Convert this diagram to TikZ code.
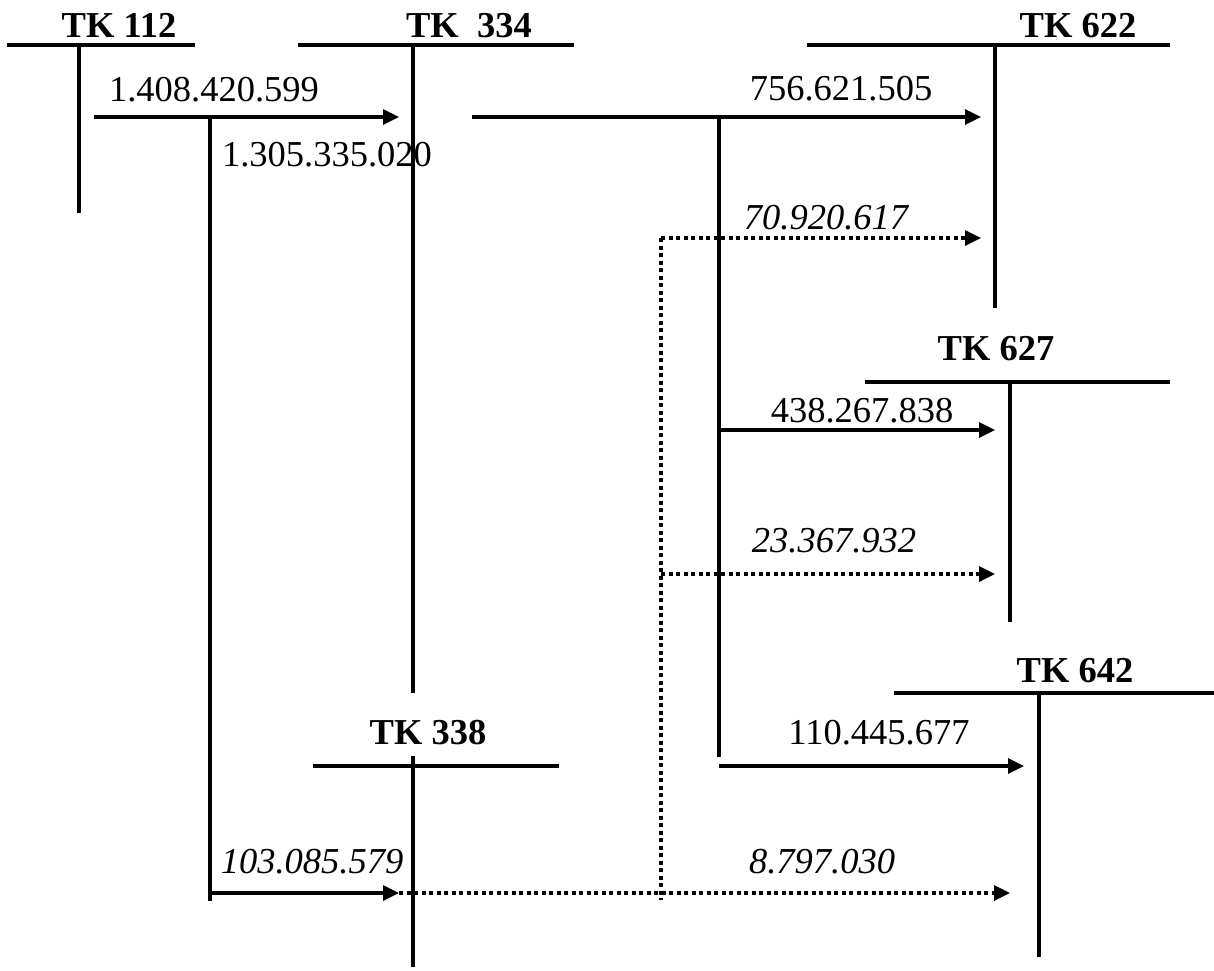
\documentclass[tikz,border=0pt]{standalone}
\usepackage{fontspec}
\setmainfont{Liberation Serif}
\usetikzlibrary{arrows.meta}
\tikzset{
  acc/.style={line width=3.3pt},
  flow/.style={line width=3.3pt,-{Triangle[length=16pt,width=15pt]}},
  dflow/.style={line width=3.3pt,dash pattern=on 4pt off 3.5pt,-{Triangle[length=16pt,width=15pt]}},
  dline/.style={line width=3.3pt,dash pattern=on 4pt off 3.5pt},
  title/.style={anchor=base,inner sep=0pt,font=\fontsize{36.5}{40}\selectfont\bfseries},
  amt/.style={anchor=base,inner sep=0pt,font=\fontsize{36.5}{40}\selectfont},
  iamt/.style={anchor=base,inner sep=0pt,font=\fontsize{36.5}{40}\selectfont\itshape}
}
\begin{document}
\begin{tikzpicture}[x=1pt,y=-1pt]
\useasboundingbox (0,0) rectangle (1214,970);
% T-accounts: titles
\node[title] (t112) at (119,37) {TK 112};
\node[title] (t334) at (469,37) {TK~~334};
\node[title] (t622) at (1078,37) {TK 622};
\node[title] (t627) at (996,360) {TK 627};
\node[title] (t642) at (1075,682) {TK 642};
\node[title] (t338) at (428,744) {TK 338};
% T-account coordinates
\coordinate (h112a) at (7,45);   \coordinate (h112b) at (195,45);
\coordinate (v112a) at (79,45);  \coordinate (v112b) at (79,213);
\coordinate (h334a) at (298,45); \coordinate (h334b) at (574,45);
\coordinate (v334a) at (413,45); \coordinate (v334b) at (413,693);
\coordinate (h622a) at (807,45); \coordinate (h622b) at (1170,45);
\coordinate (v622a) at (995,45); \coordinate (v622b) at (995,308);
\coordinate (h627a) at (865,382); \coordinate (h627b) at (1170,382);
\coordinate (v627a) at (1010,382); \coordinate (v627b) at (1010,622);
\coordinate (h642a) at (894,693); \coordinate (h642b) at (1214,693);
\coordinate (v642a) at (1039,693); \coordinate (v642b) at (1039,957);
\coordinate (h338a) at (313,766); \coordinate (h338b) at (559,766);
\coordinate (v338a) at (413,756); \coordinate (v338b) at (413,967);
\draw[acc] (h112a) -- (h112b) (v112a) -- (v112b);
\draw[acc] (h334a) -- (h334b) (v334a) -- (v334b);
\draw[acc] (h622a) -- (h622b) (v622a) -- (v622b);
\draw[acc] (h627a) -- (h627b) (v627a) -- (v627b);
\draw[acc] (h642a) -- (h642b) (v642a) -- (v642b);
\draw[acc] (h338a) -- (h338b) (v338a) -- (v338b);
% flow coordinates
\coordinate (s1) at (94,117);   \coordinate (e1) at (399,117);
\coordinate (b1a) at (210,117); \coordinate (b1b) at (210,901);
\coordinate (s2) at (210,893);  \coordinate (e2) at (399,893);
\coordinate (s3) at (472,117);  \coordinate (e3) at (981,117);
\coordinate (b2a) at (719,117); \coordinate (b2b) at (719,757);
\coordinate (s4) at (719,430);  \coordinate (e4) at (995,430);
\coordinate (s5) at (719,766);  \coordinate (e5) at (1024,766);
\coordinate (d0a) at (661,238); \coordinate (d0b) at (661,900);
\coordinate (e6) at (981,238);
\coordinate (s7) at (661,574);  \coordinate (e7) at (995,574);
\coordinate (e8) at (1010,893);
% solid flows
\draw[flow] (s1) -- (e1);
\draw[acc] (b1a) -- (b1b);
\draw[flow] (s2) -- (e2);
\draw[flow] (s3) -- (e3);
\draw[acc] (b2a) -- (b2b);
\draw[flow] (s4) -- (e4);
\draw[flow] (s5) -- (e5);
% dotted flows
\draw[dline] (d0a) -- (d0b);
\draw[dflow] (d0a) -- (e6);
\draw[dflow] (s7) -- (e7);
\draw[dflow] (e2) -- (e8);
% amounts
\node[amt] (n1) at (214,101) {1.408.420.599};
\node[amt] (n2) at (327,166) {1.305.335.020};
\node[amt] (n3) at (841,100) {756.621.505};
\node[iamt] (n4) at (826,229) {70.920.617};
\node[amt] (n5) at (862,422) {438.267.838};
\node[iamt] (n6) at (834,552) {23.367.932};
\node[amt] (n7) at (879,744) {110.445.677};
\node[iamt] (n8) at (312,873) {103.085.579};
\node[iamt] (n9) at (822,873) {8.797.030};
\end{tikzpicture}
\end{document}
